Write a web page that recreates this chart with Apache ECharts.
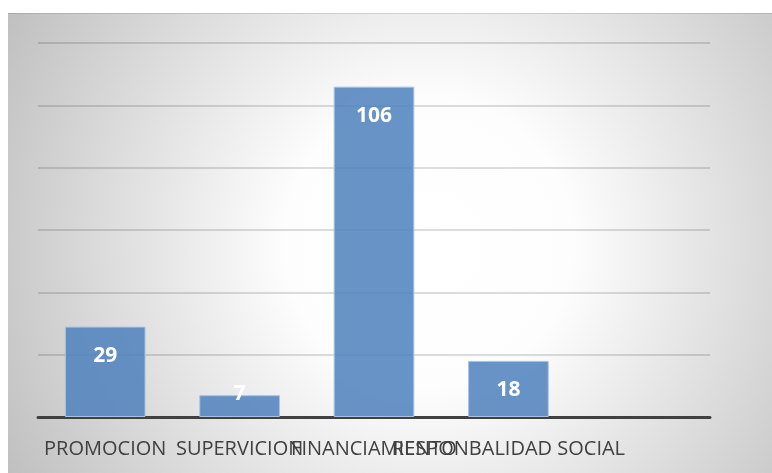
<!DOCTYPE html>
<html lang="es">
  <head>
    <meta charset="UTF-8" />
    <title>chart</title>
    <script src="https://cdn.jsdelivr.net/npm/echarts@6/dist/echarts.min.js"></script>
    <style>
      body {
        margin: 0;
        padding: 0;
        background: #fff;
      }

      #main {
        width: 772px;
        height: 473px;
      }
    </style>
  </head>

  <body>
    <div id="main"></div>
    <script>
      const categories = [
        "PROMOCION",
        "SUPERVICION",
        "FINANCIAMIENTO",
        "RESPONBALIDAD SOCIAL",
        "",
      ];
      const values = [29, 7, 106, 18, null];
      const yTicks = { min: 0, max: 120, interval: 20 };

      const chartDom = document.getElementById("main");
      const myChart = echarts.init(chartDom);

      const option = {
        animation: false,
        graphic: [
          {
            type: "rect",
            z: -10,
            silent: true,
            shape: { x: 8, y: 13, width: 764, height: 460 },
            style: {
              fill: new echarts.graphic.RadialGradient(0.55, 0.5, 1.05, [
                { offset: 0, color: "#ffffff" },
                { offset: 0.3, color: "#fdfdfd" },
                { offset: 1, color: "#bfbfbf" },
              ]),
            },
          },
          {
            // thin darker edge along the top of the plot frame
            type: "line",
            z: -9,
            silent: true,
            shape: { x1: 8, y1: 13.5, x2: 772, y2: 13.5 },
            style: { stroke: "rgba(0,0,0,0.12)", lineWidth: 1 },
          },
        ],
        grid: {
          left: 38,
          right: 62,
          top: 43,
          bottom: 56,
        },
        xAxis: {
          type: "category",
          data: categories,
          axisTick: { show: false },
          axisLine: {
            lineStyle: { color: "#404040", width: 3 },
          },
          axisLabel: {
            interval: 0,
            hideOverlap: false,
            color: "#404040",
            fontFamily: "Open Sans",
            fontSize: 20,
            margin: 22,
          },
        },
        yAxis: {
          type: "value",
          min: yTicks.min,
          max: yTicks.max,
          interval: yTicks.interval,
          axisLabel: { show: false },
          axisLine: { show: false },
          axisTick: { show: false },
          splitLine: {
            lineStyle: { color: "rgba(0,0,0,0.18)", width: 1.5 },
          },
        },
        series: [
          {
            type: "bar",
            barWidth: "60%",
            itemStyle: {
              color: "rgba(79,129,189,0.86)",
              borderColor: "#a9c2e2",
              borderWidth: 1,
            },
            label: {
              show: true,
              position: "insideTop",
              distance: 19,
              color: "#fff",
              fontFamily: "Open Sans",
              fontWeight: "bold",
              fontSize: 21,
            },
            data: values.map((v) =>
              v !== null && v < 10
                ? { value: v, label: { position: "insideBottom", distance: 12 } }
                : v
            ),
          },
        ],
      };

      myChart.setOption(option);
    </script>
  </body>
</html>
